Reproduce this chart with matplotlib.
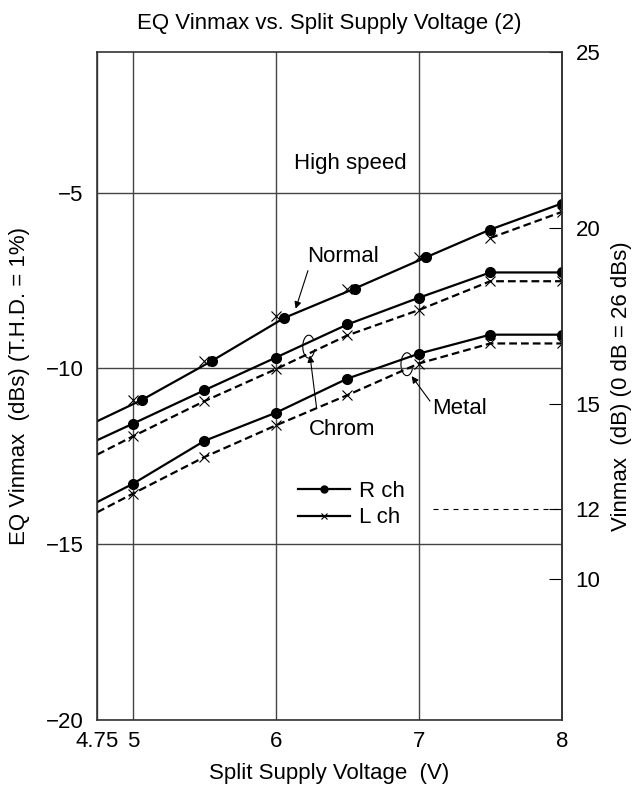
import matplotlib
matplotlib.use("Agg")
import matplotlib.pyplot as plt
from matplotlib.lines import Line2D
from matplotlib.patches import Arc

plt.rcParams['font.family'] = ['Liberation Sans', 'DejaVu Sans']
plt.rcParams['font.size'] = 16

# Split supply voltage (V); 4.75 is where the curves enter the left edge
volts = [4.75, 5.0, 5.5, 6.0, 6.5, 7.0, 7.5, 8.0]
# Normal tape: R ch dots are drawn slightly right of the L ch crosses
normal_r_x = [4.75, 5.06, 5.55, 6.06, 6.55, 7.05, 7.5, 8.0]
normal_r = [-11.5, -10.9, -9.79, -8.56, -7.73, -6.84, -6.05, -5.31]
normal_l = [-11.5, -10.89, -9.79, -8.51, -7.75, -6.84, -6.29, -5.55]
chrom_r = [-12.04, -11.57, -10.62, -9.69, -8.75, -7.99, -7.27, -7.27]
chrom_l = [-12.45, -11.93, -10.93, -10.02, -9.06, -8.34, -7.52, -7.52]
metal_r = [-13.8, -13.28, -12.06, -11.26, -10.29, -9.58, -9.04, -9.04]
metal_l = [-14.09, -13.56, -12.52, -11.62, -10.76, -9.86, -9.29, -9.29]

x_ticks = [4.75, 5, 6, 7, 8]
x_labels = ['4.75', '5', '6', '7', '8']
y_ticks = [-20, -15, -10, -5]
right_ticks = [10, 12, 15, 20, 25]
db_offset = 26  # 0 dB = 26 dBs
ref_db = 12
ref_x = (7.1, 8.0)

fig = plt.figure(figsize=(6.36, 7.88), dpi=100)
ax = fig.add_axes([0.153, 0.0863, 0.7302, 0.8477])
ax.set_xlim(4.75, 8)
ax.set_ylim(-20, -1)

ax.set_xticks(x_ticks)
ax.set_xticklabels(x_labels)
ax.set_yticks(y_ticks)
ax.tick_params(axis='both', length=0)
ax.tick_params(axis='x', pad=8)
ax.tick_params(axis='y', pad=10)
ax.grid(True, color='#444444', lw=1.0)
for s in ax.spines.values():
    s.set_color('#333333')
    s.set_linewidth(1.2)

dash = (3.5, 1.8)
mk_dot = dict(marker='o', ms=7, mfc='k', mec='k')
mk_x = dict(marker='x', ms=7, mew=0.8, mec='k')
skip_edge = list(range(1, len(volts)))

# L ch (dashed) first, R ch (solid) on top
# Normal L ch runs under the R ch line until 7.5 V
ax.plot(volts[1:], normal_l[1:], ls='none', **mk_x)
ax.plot(volts[6:], normal_l[6:], color='k', lw=1.6, ls='--', dashes=dash)
for yl in (chrom_l, metal_l):
    ax.plot(volts, yl, color='k', lw=1.6, ls='--', dashes=dash,
            markevery=skip_edge, **mk_x)
ax.plot(normal_r_x, normal_r, color='k', lw=1.6, markevery=skip_edge, **mk_dot)
for yr in (chrom_r, metal_r):
    ax.plot(volts, yr, color='k', lw=1.6, markevery=skip_edge, **mk_dot)

ax.hlines(ref_db - db_offset, ref_x[0], ref_x[1], color='k', lw=0.8,
          linestyles=(0, (4.5, 4.5)))

# right axis in dB
sec = ax.secondary_yaxis('right', functions=(lambda d: d + db_offset,
                                             lambda d: d - db_offset))
sec.set_yticks(right_ticks)
sec.tick_params(direction='in', length=9.5, width=0.8, pad=10)
sec.spines['right'].set_color('#333333')
sec.spines['right'].set_linewidth(1.2)

# annotations
ax.text(6.52, -4.16, 'High speed', ha='center', va='center')
ax.text(6.47, -6.83, 'Normal', ha='center', va='center')
ax.text(6.466, -11.73, 'Chrom', ha='center', va='center')
ax.text(7.285, -11.14, 'Metal', ha='center', va='center')
arr = dict(arrowstyle='-|>', lw=0.8, color='k', mutation_scale=10,
           shrinkA=0, shrinkB=0)
ax.annotate('', xy=(6.138, -8.30), xytext=(6.224, -7.22), arrowprops=arr)
ax.annotate('', xy=(6.238, -9.63), xytext=(6.285, -11.14), arrowprops=arr)
ax.annotate('', xy=(6.95, -10.22), xytext=(7.078, -10.93), arrowprops=arr)
for cx, cy in [(6.23, -9.38), (6.917, -9.88)]:
    ax.add_patch(Arc((cx, cy), 0.084, 0.65, theta1=80, theta2=300,
                     color='k', lw=0.8))

handles = [Line2D([], [], color='k', lw=1.6, marker='o', ms=5),
           Line2D([], [], color='k', lw=1.6, marker='x', ms=5, mew=0.8)]
ax.legend(handles, ['R ch', 'L ch'], loc='upper left',
          bbox_to_anchor=(0.432, 0.358), frameon=False, borderpad=0,
          handlelength=2.35, handletextpad=0.4, labelspacing=0.25,
          borderaxespad=0)

fig.text(329.5 / 636, 1 - 24 / 788, 'EQ Vinmax vs. Split Supply Voltage (2)',
         ha='center', va='center')
fig.text(329.5 / 636, 1 - 774 / 788, 'Split Supply Voltage  (V)',
         ha='center', va='center')
fig.text(20 / 636, 1 - 386 / 788, 'EQ Vinmax  (dBs) (T.H.D. = 1%)',
         rotation=90, ha='center', va='center')
fig.text(622 / 636, 1 - 386 / 788, 'Vinmax  (dB) (0 dB = 26 dBs)',
         rotation=90, ha='center', va='center')

fig.savefig('out.png', dpi=100)
